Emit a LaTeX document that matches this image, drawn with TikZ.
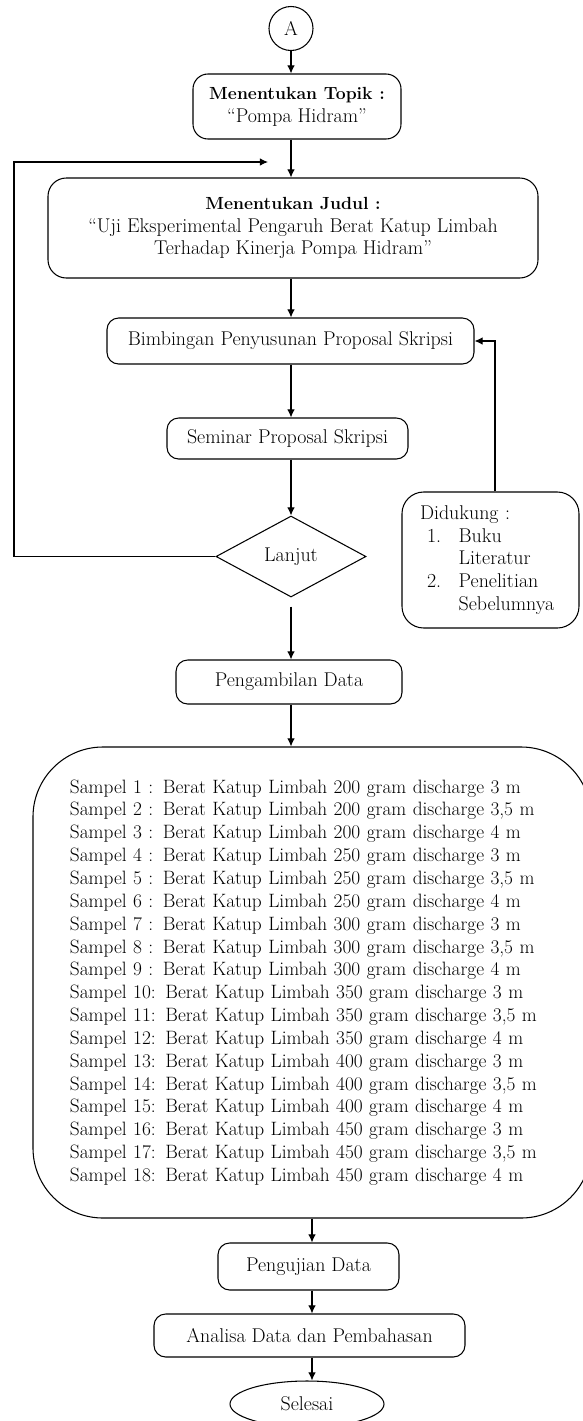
\documentclass[tikz,border=0pt]{standalone}
\usetikzlibrary{shapes.geometric,arrows.meta}
\newcommand{\judulhead}[1]{{\fontsize{15}{19.5}\selectfont\textbf{#1}}}
\begin{document}
\begin{tikzpicture}[x=0.03cm,y=-0.03cm,
    arrow/.style = {line width=0.9pt,-{Latex[length=7pt,width=6.5pt]}},
    box/.style = {draw,line width=0.9pt,rounded corners=0.35cm,align=center,
                  font=\fontsize{17}{19.5}\selectfont}]
                \useasboundingbox (0,0) rectangle (582,1421);

                \node[draw,line width=0.9pt,circle,minimum size=1.32cm,inner sep=0pt,
                    font=\fontsize{17}{19.5}\selectfont] (A) at (291,28.5) {A};
                \node[box,rounded corners=0.45cm,minimum width=6.24cm,minimum height=1.95cm] (topik) at (297,106.5)
                    {\judulhead{Menentukan Topik :}\\``Pompa Hidram''};
                \node[box,rounded corners=0.55cm,minimum width=14.7cm,minimum height=3cm] (judul) at (293,228)
                    {\judulhead{Menentukan Judul :}\\``Uji Eksperimental Pengaruh Berat Katup Limbah\\Terhadap Kinerja Pompa Hidram''};
                \node[box,minimum width=11.01cm,minimum height=1.38cm] (bimbingan) at (290.5,341)
                    {Bimbingan Penyusunan Proposal Skripsi};
                \node[box,minimum width=7.23cm,minimum height=1.23cm] (seminar) at (287.5,438.5)
                    {Seminar Proposal Skripsi};
                \node[draw,line width=0.9pt,diamond,inner sep=0pt,minimum width=4.5cm,minimum height=2.43cm,
                    font=\fontsize{17}{19.5}\selectfont] (lanjut) at (291,556.5) {Lanjut};
                \node[box,rounded corners=0.65cm,minimum width=5.31cm,minimum height=4.08cm,
                    text width=4.23cm,align=left] (dukung) at (490.5,560)
                    {Didukung :\\
                     \hspace*{6pt}\makebox[27pt][l]{1.}Buku\\
                     \hspace*{33pt}Literatur\\
                     \hspace*{6pt}\makebox[27pt][l]{2.}Penelitian\\
                     \hspace*{33pt}Sebelumnya};
                \node[box,minimum width=6.78cm,minimum height=1.32cm] (ambil) at (289,682)
                    {Pengambilan Data};
                \node[box,rounded corners=2.1cm,minimum width=16.74cm,minimum height=14.13cm,
                    text width=14.52cm,align=left,font=\fontsize{16.5}{19.5}\selectfont] (sampel) at (312,982.5)
                    {Sampel 1 : Berat Katup Limbah 200 gram discharge 3 m\\
                     Sampel 2 : Berat Katup Limbah 200 gram discharge 3,5 m\\
                     Sampel 3 : Berat Katup Limbah 200 gram discharge 4 m\\
                     Sampel 4 : Berat Katup Limbah 250 gram discharge 3 m\\
                     Sampel 5 : Berat Katup Limbah 250 gram discharge 3,5 m\\
                     Sampel 6 : Berat Katup Limbah 250 gram discharge 4 m\\
                     Sampel 7 : Berat Katup Limbah 300 gram discharge 3 m\\
                     Sampel 8 : Berat Katup Limbah 300 gram discharge 3,5 m\\
                     Sampel 9 : Berat Katup Limbah 300 gram discharge 4 m\\
                     Sampel 10: Berat Katup Limbah 350 gram discharge 3 m\\
                     Sampel 11: Berat Katup Limbah 350 gram discharge 3,5 m\\
                     Sampel 12: Berat Katup Limbah 350 gram discharge 4 m\\
                     Sampel 13: Berat Katup Limbah 400 gram discharge 3 m\\
                     Sampel 14: Berat Katup Limbah 400 gram discharge 3,5 m\\
                     Sampel 15: Berat Katup Limbah 400 gram discharge 4 m\\
                     Sampel 16: Berat Katup Limbah 450 gram discharge 3 m\\
                     Sampel 17: Berat Katup Limbah 450 gram discharge 3,5 m\\
                     Sampel 18: Berat Katup Limbah 450 gram discharge 4 m};
                \node[box,minimum width=5.43cm,minimum height=1.41cm] (uji) at (308.5,1266.5)
                    {Pengujian Data};
                \node[box,minimum width=9.33cm,minimum height=1.29cm] (analisa) at (309.5,1335.5)
                    {Analisa Data dan Pembahasan};
                \node[draw,line width=0.9pt,ellipse,minimum width=4.62cm,minimum height=1.38cm,
                    font=\fontsize{17}{19.5}\selectfont] (selesai) at (307,1404) {Selesai};

                \coordinate (loop) at (14,162);
                \coordinate (loopend) at (268,162);

                \draw[arrow] (A) -- (A |- topik.north);
                \draw[arrow] (A |- topik.south) -- (A |- judul.north);
                \draw[arrow] (A |- judul.south) -- (A |- bimbingan.north);
                \draw[arrow] (A |- bimbingan.south) -- (A |- seminar.north);
                \draw[arrow] (A |- seminar.south) -- (lanjut.north);
                \draw[arrow] (lanjut.west) -| (loop) -- (loopend);
                \draw[arrow] ([yshift=-0.27cm]lanjut.south) -- (lanjut.south |- ambil.north);
                \draw[arrow] ([xshift=0.135cm]dukung.north) |- (bimbingan.east);
                \draw[arrow] (lanjut.south |- ambil.south) -- (lanjut.south |- sampel.north);
                \draw[arrow] (sampel) -- (sampel.south |- uji.north);
                \draw[arrow] (sampel.south |- uji.south) -- (sampel.south |- analisa.north);
                \draw[arrow] (sampel.south |- analisa.south) -- (sampel.south |- selesai.north);
            \end{tikzpicture}
\end{document}
